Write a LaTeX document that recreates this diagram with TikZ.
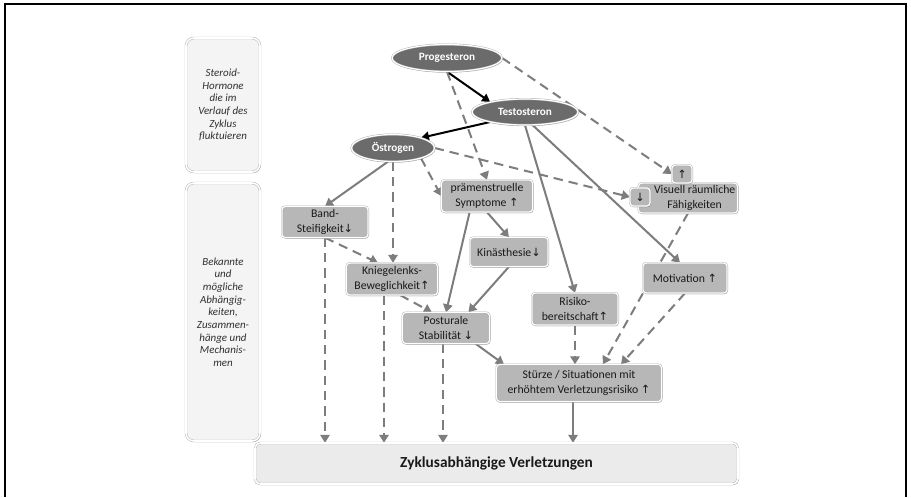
\documentclass[tikz,border=0pt]{standalone}
\usepackage{fontspec}
\setmainfont{Carlito}
\newfontfamily\arrowfont{DejaVu Sans}
\usetikzlibrary{shapes.geometric,arrows.meta,shadows,backgrounds,calc}
\definecolor{ellfill}{HTML}{6B6B6B}
\definecolor{boxfill}{HTML}{B7B7B7}
\definecolor{lightfill}{HTML}{F4F4F4}
\definecolor{botfill}{HTML}{EBEBEB}
\definecolor{linegray}{HTML}{7D7D7D}
\definecolor{edgegray}{HTML}{A8A8A8}
\definecolor{lbltext}{HTML}{303030}
\newcommand\myup{{\arrowfont\fontsize{8.5}{8.5}\selectfont ↑}}
\newcommand\mydown{{\arrowfont\fontsize{8.5}{8.5}\selectfont ↓}}
\tikzset{
  myshadow/.style={drop shadow={shadow xshift=0.6pt,shadow yshift=-0.9pt,fill=black,opacity=0.25}},
  hormone/.style={ellipse, fill=ellfill, draw=edgegray, double=white, double distance=0.9pt, line width=0.3pt,
    inner sep=0pt, text=white, font=\bfseries\fontsize{8.4}{10}\selectfont, myshadow},
  gbox/.style={rectangle, rounded corners=2.5pt, fill=boxfill, draw=edgegray, double=white, double distance=0.9pt,
    line width=0.3pt, align=center, inner sep=1pt, text=black!90, font=\fontsize{8.8}{11.3}\selectfont, myshadow},
  sidebox/.style={rectangle, rounded corners=6pt, fill=lightfill, draw=edgegray, double=white, double distance=1.2pt,
    line width=0.3pt, align=center, inner sep=1pt, text=lbltext, font=\itshape\fontsize{8.2}{9.5}\selectfont, myshadow},
  botbox/.style={rectangle, rounded corners=4pt, fill=botfill, draw=edgegray, double=white, double distance=1.2pt,
    line width=0.3pt, align=center, text=black!90, font=\bfseries\fontsize{11.5}{13}\selectfont, myshadow},
  blk/.style={draw=black, line width=1.5pt, -{Triangle[length=6pt,width=6.5pt]}},
  gsolid/.style={draw=linegray, line width=1.5pt, -{Triangle[length=6pt,width=7pt]}},
  gdash/.style={draw=linegray, line width=1.5pt, dash pattern=on 7pt off 4.5pt, -{Triangle[length=6pt,width=7pt]}}
}
\begin{document}
\begin{tikzpicture}[x=0.75pt,y=-0.75pt]
\useasboundingbox (0,0) rectangle (911,497);
\draw[line width=1.6pt] (5,497) -- (5,4) -- (906,4) -- (906,497);

% side labels
\node[sidebox, minimum width=55.5pt, minimum height=100.5pt] (l1) at (223,105)
  {Steroid-\\Hormone\\die im\\Verlauf des\\Zyklus\\fluktuieren};
\node[sidebox, minimum width=55.5pt, minimum height=193.5pt] (l2) at (223,312)
  {Bekannte\\und\\mögliche\\Abhängig-\\keiten,\\Zusammen-\\hänge und\\Mechanis-\\men};

% hormones
\node[hormone, minimum width=82.5pt, minimum height=20.25pt] (prog) at (447,58) {Progesteron};
\node[hormone, minimum width=79.5pt, minimum height=19.5pt] (test) at (525,112) {Testosteron};
\node[hormone, minimum width=62.25pt, minimum height=20.25pt] (oest) at (393,148) {Östrogen};

% boxes
\node[gbox, minimum width=64.5pt, minimum height=23.25pt] (band) at (325,222) {Band-\\Steifigkeit\mydown};
\node[gbox, minimum width=68.25pt, minimum height=24pt] (praem) at (487,196) {prämenstruelle\\Symptome \myup};
\node[gbox, minimum width=58.5pt, minimum height=21.75pt] (kin) at (509,252) {Kinästhesie\mydown};
\node[gbox, minimum width=68.25pt, minimum height=24pt] (knie) at (392,279) {Kniegelenks-\\Beweglichkeit\myup};
\node[gbox, minimum width=74.25pt, minimum height=22.5pt] (vis) at (688,198)
  {\hspace*{10pt}Visuell räumliche\\\hspace*{10pt}Fähigkeiten};
\node[gbox, minimum width=15pt, minimum height=13.5pt] (up) at (682,174) {\myup};
\node[gbox, minimum width=15pt, minimum height=13.5pt] (down) at (640,197) {\mydown};
\node[gbox, minimum width=63pt, minimum height=22.5pt] (mot) at (685,278) {Motivation \myup};
\node[gbox, minimum width=64.5pt, minimum height=24pt] (risk) at (575,309) {Risiko-\\bereitschaft\myup};
\node[gbox, minimum width=65.25pt, minimum height=23.25pt] (post) at (446,328) {Posturale\\Stabilität \mydown};
\node[gbox, minimum width=123.75pt, minimum height=27.75pt] (sturz) at (579,383)
  {Stürze / Situationen mit\\erhöhtem Verletzungsrisiko \myup};
\node[botbox, minimum width=362.25pt, minimum height=30.75pt] (bot) at (496.5,463.5) {Zyklusabhängige Verletzungen};

\coordinate (kx) at ($(knie.south)+(-8,0)$);
\coordinate (px) at ($(post.south)+(-3,0)$);
\coordinate (sx) at ($(sturz.south)+(-6,0)$);

% connectors
\begin{scope}[on background layer]
\fill[white] (0,0) rectangle (911,497);
\draw[blk] (prog.south) -- (test.164);
\draw[blk] (test.196) -- (oest.20);
\draw[gdash] (prog.east) -- (up.west);
\draw[gdash] (prog.south) -- (praem.north);
\draw[gdash] (oest.-20) -- (praem.west);
\draw[gdash] (oest.east) -- (down.west);
\draw[gdash] (oest.south) -- (oest.south |- knie.north);
\draw[gsolid] (oest.250) -- (band.north);
\draw[gdash] (band.south) -- (knie.131);
\draw[gdash] (band.south) -- (band.south |- bot.north);
\draw[gdash] (kx) -- (kx |- bot.north);
\draw[gdash] (knie.-63) -- (post.132);
\draw[gsolid] (praem.south) -- (kin.north);
\draw[gsolid] (praem.223) -- (post.north);
\draw[gsolid] (kin.south) -- (post.35);
\draw[gsolid] (test.south) -- (risk.north);
\draw[gsolid] (test.-60) -- (mot.108);
\draw[gdash] (vis.south) -- (sturz.38);
\draw[gdash] (mot.south) -- (sturz.24);
\draw[gdash] (risk.south) -- (risk.south |- sturz.north);
\draw[gsolid] (post.-28) -- (sturz.166);
\draw[gdash] (px) -- (px |- bot.north);
\draw[gsolid] (sx) -- (sx |- bot.north);
\end{scope}
\end{tikzpicture}
\end{document}
